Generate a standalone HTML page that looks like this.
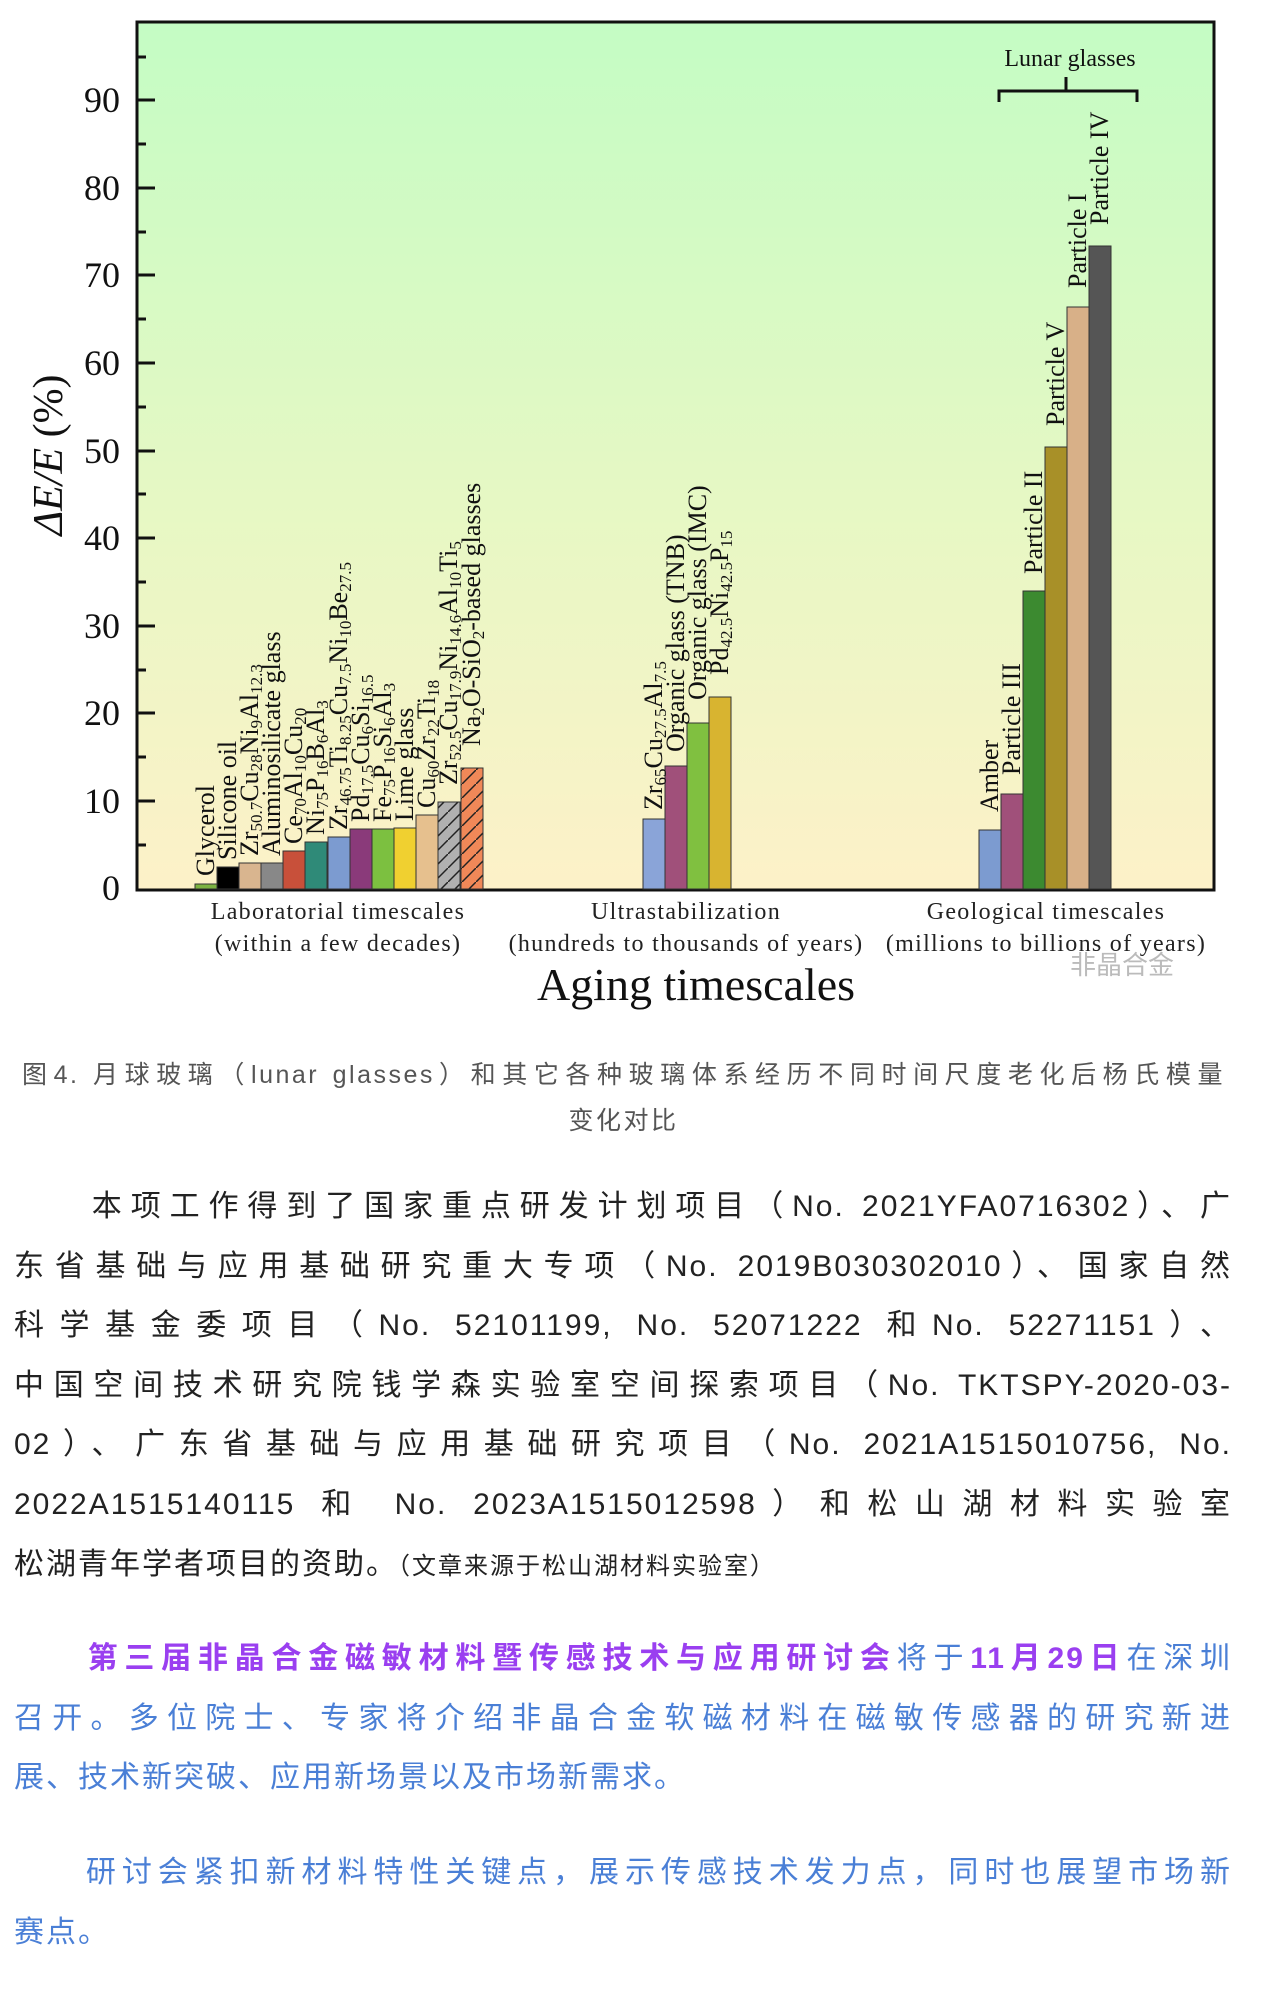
<!DOCTYPE html>
<html><head><meta charset="utf-8"><style>
body{margin:0;width:1277px;height:2006px;background:#fff;position:relative;overflow:hidden;font-family:"Liberation Sans","Noto Sans CJK SC",sans-serif}
.p{position:absolute;left:14px;width:1218px;font-size:30px;line-height:59.6px;letter-spacing:2px;color:#222}
.p span{display:block;text-align:justify;text-align-last:justify;white-space:nowrap}
.p span.l{text-align-last:left}
.cap{position:absolute;left:22px;width:1203px;font-size:25px;line-height:46px;color:#555;letter-spacing:2.5px}
</style></head><body>
<svg width="1277" height="1010" style="position:absolute;left:0;top:0" font-family="Liberation Serif, serif">
<defs>
<linearGradient id="bg" x1="0" y1="0" x2="0" y2="1"><stop offset="0" stop-color="#c4fcc4"/><stop offset="0.55" stop-color="#e6f8c4"/><stop offset="1" stop-color="#fdf1c8"/></linearGradient>
<pattern id="h1" width="14" height="14" patternUnits="userSpaceOnUse"><path d="M0 14L14 0" stroke="#222" stroke-width="1.5"/></pattern>
</defs>
<rect x="137" y="22" width="1077" height="868" fill="url(#bg)" stroke="#111" stroke-width="3"/>
<g stroke="#111" stroke-width="3">
<line x1="137" y1="100" x2="155" y2="100"/><line x1="137" y1="188" x2="155" y2="188"/><line x1="137" y1="275" x2="155" y2="275"/><line x1="137" y1="363" x2="155" y2="363"/><line x1="137" y1="451" x2="155" y2="451"/><line x1="137" y1="538" x2="155" y2="538"/><line x1="137" y1="626" x2="155" y2="626"/><line x1="137" y1="713" x2="155" y2="713"/><line x1="137" y1="801" x2="155" y2="801"/>
<line x1="137" y1="57" x2="146" y2="57"/><line x1="137" y1="144" x2="146" y2="144"/><line x1="137" y1="232" x2="146" y2="232"/><line x1="137" y1="319" x2="146" y2="319"/><line x1="137" y1="407" x2="146" y2="407"/><line x1="137" y1="494" x2="146" y2="494"/><line x1="137" y1="582" x2="146" y2="582"/><line x1="137" y1="670" x2="146" y2="670"/><line x1="137" y1="757" x2="146" y2="757"/><line x1="137" y1="845" x2="146" y2="845"/>
</g>
<g font-size="36" text-anchor="end" fill="#111">
<text x="120" y="112">90</text><text x="120" y="200">80</text><text x="120" y="287">70</text><text x="120" y="375">60</text><text x="120" y="463">50</text><text x="120" y="550">40</text><text x="120" y="638">30</text><text x="120" y="725">20</text><text x="120" y="813">10</text><text x="120" y="900">0</text>
</g>
<text transform="translate(62,455) rotate(-90)" font-size="42" text-anchor="middle" fill="#111"><tspan font-style="italic">ΔE/E</tspan> (%)</text>
<g stroke="#333" stroke-width="1">
<rect x="195" y="884" width="22" height="5" fill="#7cb342"/>
<rect x="217" y="867" width="22" height="22" fill="#000"/>
<rect x="239" y="863" width="22" height="26" fill="#d9b58f"/>
<rect x="261" y="863" width="22" height="26" fill="#888"/>
<rect x="283" y="851" width="22" height="38" fill="#c8503a"/>
<rect x="305" y="842" width="22" height="47" fill="#2f8a78"/>
<rect x="328" y="837" width="22" height="52" fill="#7c9bd0"/>
<rect x="350" y="829" width="22" height="60" fill="#8a3a7a"/>
<rect x="372" y="829" width="22" height="60" fill="#7cc040"/>
<rect x="394" y="828" width="22" height="61" fill="#f0d030"/>
<rect x="416" y="815" width="22" height="74" fill="#e6c08e"/>
<rect x="438" y="802" width="22" height="87" fill="#b0b0b0"/>
<rect x="438" y="802" width="22" height="87" fill="url(#h1)"/>
<rect x="461" y="768" width="22" height="121" fill="#f08858"/>
<rect x="461" y="768" width="22" height="121" fill="url(#h1)"/>
<rect x="643" y="819" width="22" height="70" fill="#8aa4d8"/>
<rect x="665" y="766" width="22" height="123" fill="#a0507a"/>
<rect x="687" y="723" width="22" height="166" fill="#80c040"/>
<rect x="709" y="697" width="22" height="192" fill="#d8b430"/>
<rect x="979" y="830" width="22" height="59" fill="#7c9bd0"/>
<rect x="1001" y="794" width="22" height="95" fill="#a0507a"/>
<rect x="1023" y="591" width="22" height="298" fill="#3c8a30"/>
<rect x="1045" y="447" width="22" height="442" fill="#a89028"/>
<rect x="1067" y="307" width="22" height="582" fill="#d8b088"/>
<rect x="1089" y="246" width="22" height="643" fill="#555"/>
</g>
<g font-size="26" fill="#111">
<text transform="translate(214,876) rotate(-90)">Glycerol</text>
<text transform="translate(236,860) rotate(-90)">Silicone oil</text>
<text transform="translate(258,856) rotate(-90)">Zr<tspan font-size="17" dy="4">50.7</tspan><tspan dy="-4">Cu</tspan><tspan font-size="17" dy="4">28</tspan><tspan dy="-4">Ni</tspan><tspan font-size="17" dy="4">9</tspan><tspan dy="-4">Al</tspan><tspan font-size="17" dy="4">12.3</tspan></text>
<text transform="translate(280,856) rotate(-90)">Aluminosilicate glass</text>
<text transform="translate(302,844) rotate(-90)">Ce<tspan font-size="17" dy="4">70</tspan><tspan dy="-4">Al</tspan><tspan font-size="17" dy="4">10</tspan><tspan dy="-4">Cu</tspan><tspan font-size="17" dy="4">20</tspan></text>
<text transform="translate(324,835) rotate(-90)">Ni<tspan font-size="17" dy="4">75</tspan><tspan dy="-4">P</tspan><tspan font-size="17" dy="4">16</tspan><tspan dy="-4">B</tspan><tspan font-size="17" dy="4">6</tspan><tspan dy="-4">Al</tspan><tspan font-size="17" dy="4">3</tspan></text>
<text transform="translate(347,830) rotate(-90)">Zr<tspan font-size="17" dy="4">46.75</tspan><tspan dy="-4">Ti</tspan><tspan font-size="17" dy="4">8.25</tspan><tspan dy="-4">Cu</tspan><tspan font-size="17" dy="4">7.5</tspan><tspan dy="-4">Ni</tspan><tspan font-size="17" dy="4">10</tspan><tspan dy="-4">Be</tspan><tspan font-size="17" dy="4">27.5</tspan></text>
<text transform="translate(369,822) rotate(-90)">Pd<tspan font-size="17" dy="4">17.5</tspan><tspan dy="-4">Cu</tspan><tspan font-size="17" dy="4">6</tspan><tspan dy="-4">Si</tspan><tspan font-size="17" dy="4">16.5</tspan></text>
<text transform="translate(391,822) rotate(-90)">Fe<tspan font-size="17" dy="4">75</tspan><tspan dy="-4">P</tspan><tspan font-size="17" dy="4">16</tspan><tspan dy="-4">Si</tspan><tspan font-size="17" dy="4">6</tspan><tspan dy="-4">Al</tspan><tspan font-size="17" dy="4">3</tspan></text>
<text transform="translate(413,821) rotate(-90)">Lime glass</text>
<text transform="translate(435,808) rotate(-90)">Cu<tspan font-size="17" dy="4">60</tspan><tspan dy="-4">Zr</tspan><tspan font-size="17" dy="4">22</tspan><tspan dy="-4">Ti</tspan><tspan font-size="17" dy="4">18</tspan></text>
<text transform="translate(457,785) rotate(-90)">Zr<tspan font-size="17" dy="4">52.5</tspan><tspan dy="-4">Cu</tspan><tspan font-size="17" dy="4">17.9</tspan><tspan dy="-4">Ni</tspan><tspan font-size="17" dy="4">14.6</tspan><tspan dy="-4">Al</tspan><tspan font-size="17" dy="4">10</tspan><tspan dy="-4">Ti</tspan><tspan font-size="17" dy="4">5</tspan></text>
<text transform="translate(480,746) rotate(-90)">Na<tspan font-size="17" dy="4">2</tspan><tspan dy="-4">O-SiO</tspan><tspan font-size="17" dy="4">2</tspan><tspan dy="-4">-based glasses</tspan></text>
<text transform="translate(662,810) rotate(-90)">Zr<tspan font-size="17" dy="4">65</tspan><tspan dy="-4">Cu</tspan><tspan font-size="17" dy="4">27.5</tspan><tspan dy="-4">Al</tspan><tspan font-size="17" dy="4">7.5</tspan></text>
<text transform="translate(684,752) rotate(-90)">Organic glass (TNB)</text>
<text transform="translate(706,700) rotate(-90)">Organic glass (IMC)</text>
<text transform="translate(728,675) rotate(-90)">Pd<tspan font-size="17" dy="4">42.5</tspan><tspan dy="-4">Ni</tspan><tspan font-size="17" dy="4">42.5</tspan><tspan dy="-4">P</tspan><tspan font-size="17" dy="4">15</tspan></text>
<text transform="translate(998,812) rotate(-90)">Amber</text>
<text transform="translate(1020,775) rotate(-90)">Particle III</text>
<text transform="translate(1042,574) rotate(-90)">Particle II</text>
<text transform="translate(1064,426) rotate(-90)">Particle V</text>
<text transform="translate(1086,288) rotate(-90)">Particle I</text>
<text transform="translate(1108,225) rotate(-90)">Particle IV</text>
</g>
<path d="M999 102V91H1066V77M1066 91H1137V102" fill="none" stroke="#111" stroke-width="3"/>
<text x="1070" y="66" font-size="24" text-anchor="middle" fill="#111">Lunar glasses</text>
<g font-size="24" text-anchor="middle" fill="#222" letter-spacing="1.3">
<text x="338" y="919">Laboratorial timescales</text><text x="338" y="951">(within a few decades)</text>
<text x="686" y="919">Ultrastabilization</text><text x="686" y="951">(hundreds to thousands of years)</text>
<text x="1046" y="919">Geological timescales</text><text x="1046" y="951">(millions to billions of years)</text>
</g>
<text x="696" y="1000" font-size="46" text-anchor="middle" fill="#111">Aging timescales</text>
<text x="1070" y="974" font-size="26" fill="#bbb" font-family="Noto Sans CJK SC, sans-serif">非晶合金</text>
</svg>
<div class="cap" style="top:1052px;text-align:justify;text-align-last:justify;white-space:nowrap">图4. 月球玻璃（lunar glasses）和其它各种玻璃体系经历不同时间尺度老化后杨氏模量</div>
<div class="cap" style="top:1098px;text-align:center">变化对比</div>
<div class="p" style="top:1177px">
<span>　　本项工作得到了国家重点研发计划项目（No. 2021YFA0716302）、广</span>
<span>东省基础与应用基础研究重大专项（No. 2019B030302010）、国家自然</span>
<span>科学基金委项目（No. 52101199, No. 52071222 和No. 52271151）、</span>
<span>中国空间技术研究院钱学森实验室空间探索项目（No. TKTSPY-2020-03-</span>
<span>02）、广东省基础与应用基础研究项目（No. 2021A1515010756, No.</span>
<span>2022A1515140115 和 No. 2023A1515012598）和松山湖材料实验室</span>
<span class="l">松湖青年学者项目的资助。<span style="display:inline;font-size:24px">（文章来源于松山湖材料实验室）</span></span>
</div>
<div class="p" style="top:1629px;color:#4a7fd6">
<span>　　<b style="color:#9a3ff0">第三届非晶合金磁敏材料暨传感技术与应用研讨会</b>将于<b style="color:#9a3ff0">11月29日</b>在深圳</span>
<span>召开。多位院士、专家将介绍非晶合金软磁材料在磁敏传感器的研究新进</span>
<span class="l">展、技术新突破、应用新场景以及市场新需求。</span>
</div>
<div class="p" style="top:1843px;color:#4a7fd6">
<span>　　研讨会紧扣新材料特性关键点，展示传感技术发力点，同时也展望市场新</span>
<span class="l">赛点。</span>
</div>
</body></html>
